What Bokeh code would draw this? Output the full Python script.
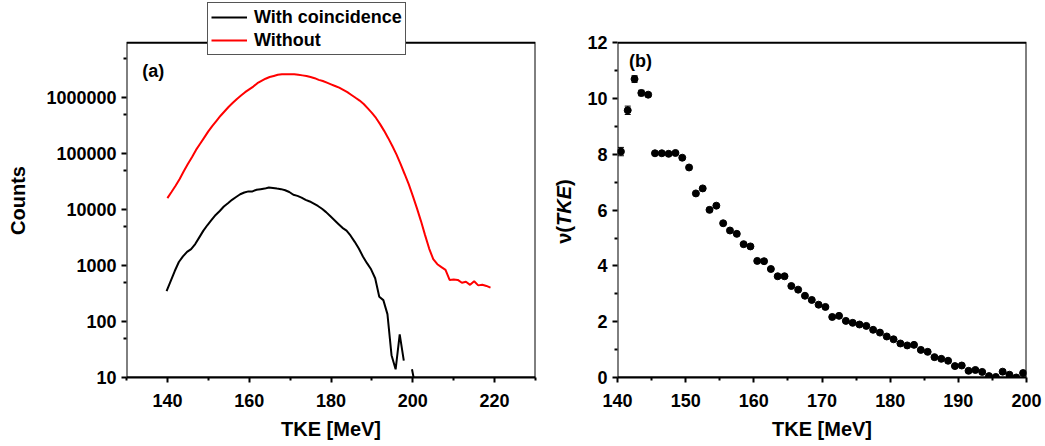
from math import pi
from bokeh.plotting import figure
from bokeh.layouts import row
from bokeh.models import (Range1d, FixedTicker, BasicTickFormatter, Label, Legend,
                          LegendItem, ColumnDataSource, Whisker, TeeHead, BoxAnnotation)
from bokeh.embed import file_html
from bokeh.resources import INLINE

FONT = "Liberation Sans"
NAN = float("nan")
H = 446          # canvas height
FB = 377         # frame bottom (px from top)
FT = 42.3        # top edge of the boxed plot area (px from top)

# ---------------- Panel (a) data ----------------
tke_without = list(range(140, 220))
counts_without = [
    15850, 20400, 26300, 34700, 47900, 64600, 85100, 114800, 147900, 190500,
    245500, 309000, 380200, 467700, 562300, 676100, 794300, 933300, 1071500, 1230300,
    1380400, 1548800, 1778300, 1949800, 2138000, 2290900, 2398800, 2511900, 2570400, 2570400,
    2570400, 2570400, 2511900, 2454700, 2398800, 2290900, 2187800, 2041700, 1949800, 1819700,
    1698200, 1584900, 1479100, 1349000, 1230300, 1096500, 977200, 871000, 758600, 631000,
    524800, 426600, 331100, 251200, 186200, 134900, 95500, 64600, 42700, 28200,
    17400, 10500, 6170, 3470, 2000, 1290, 1050, 930, 830, 550,
    560, 550, 490, 510, 450, 520, 440, 450, 430, 400,
]

tke_with = [v - 0.2 for v in range(140, 202)]
counts_with = [
    347, 525, 794, 1148, 1445, 1738, 1950, 2399, 3162, 4169,
    5248, 6457, 7943, 9333, 11220, 12880, 14790, 16600, 18620, 19950,
    20890, 20890, 22390, 22910, 23440, 24550, 23990, 23440, 22910, 21880,
    20420, 18200, 17380, 16220, 14790, 13800, 12590, 11480, 10230, 8913,
    7586, 6457, 5495, 4677, 4169, 3388, 2630, 1995, 1445, 1096,
    851, 589, 275, 240, 135, 25, 14, 59, 20, NAN,
    14, 6,
]

y_ticks_a = [10, 100, 1000, 10000, 100000, 1000000]
y_minor_a = [50, 500, 5000, 50000, 500000, 5000000]
x_ticks_a = [140, 160, 180, 200, 220]
x_minor_a = [130, 150, 170, 190, 210, 230]
x_lim_a = (130, 230)
y_lim_a = (10, 9.36e6)

# ---------------- Panel (b) data ----------------
tke_nu = [140.5 + i for i in range(60)]
nu = [
    8.10, 9.58, 10.70, 10.20, 10.14, 8.04, 8.04, 8.02, 8.05, 7.88,
    7.53, 6.60, 6.78, 6.01, 6.16, 5.53, 5.27, 5.15, 4.78, 4.70,
    4.18, 4.17, 3.89, 3.63, 3.63, 3.28, 3.15, 2.93, 2.78, 2.61,
    2.53, 2.17, 2.21, 2.03, 1.96, 1.90, 1.85, 1.71, 1.61, 1.47,
    1.37, 1.22, 1.15, 1.17, 0.99, 0.92, 0.73, 0.67, 0.60, 0.41,
    0.43, 0.24, 0.27, 0.20, 0.05, 0.02, 0.21, 0.10, 0.00, 0.16,
]
nu_err = [0.15, 0.15, 0.12, 0.10, 0.07] + [0.03] * 55

x_ticks_b = [140, 150, 160, 170, 180, 190, 200]
x_minor_b = [145, 155, 165, 175, 185, 195]
y_ticks_b = [0, 2, 4, 6, 8, 10, 12]
y_minor_b = [1, 3, 5, 7, 9, 11]
x_lim_b = (140, 200)
y_lim_b = (0, 12)


def style(p):
    p.xgrid.visible = False
    p.ygrid.visible = False
    p.outline_line_color = None
    for ax in (p.xaxis[0], p.yaxis[0]):
        ax.axis_line_width = 2
        ax.axis_line_color = "black"
        ax.major_tick_line_width = 2
        ax.minor_tick_line_width = 2
        ax.major_tick_out = 5
        ax.major_tick_in = 0
        ax.minor_tick_out = 3
        ax.minor_tick_in = 0
        ax.major_label_text_font = FONT
        ax.major_label_text_font_style = "bold"
        ax.major_label_text_font_size = "18px"
        ax.major_label_text_color = "black"
        ax.axis_label_text_font = FONT
        ax.axis_label_text_font_style = "bold"
        ax.axis_label_text_font_size = "20px"
        ax.axis_label_text_color = "black"
    p.xaxis.major_label_standoff = 11
    p.xaxis.axis_label_standoff = 8
    p.yaxis.major_label_standoff = 5
    # the left axis line is drawn by the box around the plot area
    p.yaxis.axis_line_color = None


def strip(width):
    s = figure(width=width, height=H, output_backend="svg", toolbar_location=None,
               x_range=Range1d(0, 1), y_range=Range1d(0, 1),
               x_axis_location=None, y_axis_location=None,
               min_border_left=0, min_border_right=0, min_border_top=0,
               min_border_bottom=H - FB)
    s.outline_line_color = None
    s.xgrid.visible = False
    s.ygrid.visible = False
    return s


def frame_box(p, xl, yl):
    p.add_layout(BoxAnnotation(left=xl[0], right=xl[1], bottom=yl[0], top=yl[1],
                               fill_color=None, fill_alpha=0, line_color="black",
                               line_width=2, line_alpha=1))


# ---------------- strip with "Counts" ----------------
sa = strip(40)
sa.add_layout(Label(x=17.2, y=FB - 200, x_units="screen", y_units="screen", text="Counts",
                    angle=pi / 2, text_align="center", text_baseline="middle",
                    text_font=FONT, text_font_style="bold", text_font_size="20px",
                    text_color="black"))

# ---------------- Figure (a) ----------------
# the frame runs up to the canvas top so the legend can straddle the box's upper edge
top_a = 10 ** (1 + FB / ((FB - FT) / 5.971))
p1 = figure(width=508, height=H, output_backend="svg", toolbar_location=None,
            y_axis_type="log", x_range=Range1d(*x_lim_a), y_range=Range1d(10, top_a),
            min_border_left=86, min_border_right=13, min_border_top=0,
            min_border_bottom=H - FB)
style(p1)
p1.xaxis.ticker = FixedTicker(ticks=x_ticks_a, minor_ticks=x_minor_a)
p1.yaxis.ticker = FixedTicker(ticks=y_ticks_a, minor_ticks=y_minor_a)
p1.yaxis.formatter = BasicTickFormatter(use_scientific=False)
p1.xaxis.axis_label = "TKE [MeV]"
frame_box(p1, x_lim_a, y_lim_a)

r_black = p1.line(tke_with, counts_with, line_color="black", line_width=2)
r_red = p1.line(tke_without, counts_without, line_color="#ff0000", line_width=2)

legend = Legend(items=[LegendItem(label="With coincidence", renderers=[r_black]),
                       LegendItem(label="Without", renderers=[r_red])],
                location=(81, FB - 55))
legend.label_text_font = FONT
legend.label_text_font_style = "bold"
legend.label_text_font_size = "18px"
legend.label_text_color = "black"
legend.glyph_width = 36
legend.glyph_height = 22
legend.label_height = 22
legend.spacing = 1
legend.padding = 3
legend.margin = 0
legend.label_standoff = 7
legend.border_line_color = "#555555"
legend.border_line_width = 1
legend.border_line_alpha = 1
legend.background_fill_color = "white"
legend.background_fill_alpha = 1
p1.add_layout(legend)

p1.add_layout(Label(x=15.7, y=FB - 70, x_units="screen", y_units="screen", text="(a)",
                    text_align="left", text_baseline="middle", text_color="black",
                    text_font=FONT, text_font_style="bold", text_font_size="18px"))

# ---------------- strip with "ν(TKE)" ----------------
sb = strip(30)
lab_kw = dict(x=15.3, x_units="screen", y_units="screen", angle=pi / 2, text_align="left",
              text_baseline="middle", text_font=FONT, text_font_size="20px", text_color="black")
y0 = FB - 243.3
sb.add_layout(Label(y=y0, text="ν(", text_font_style="bold", **lab_kw))
sb.add_layout(Label(y=y0 + 17.8, text="TKE", text_font_style="bold italic", **lab_kw))
sb.add_layout(Label(y=y0 + 57.8, text=")", text_font_style="bold", **lab_kw))

# ---------------- Figure (b) ----------------
top_b = y_lim_b[1] * FB / (FB - FT)
p2 = figure(width=464, height=H, output_backend="svg", toolbar_location=None,
            x_range=Range1d(*x_lim_b), y_range=Range1d(0, top_b),
            min_border_left=39, min_border_right=16, min_border_top=0,
            min_border_bottom=H - FB)
style(p2)
p2.xaxis.ticker = FixedTicker(ticks=x_ticks_b, minor_ticks=x_minor_b)
p2.yaxis.ticker = FixedTicker(ticks=y_ticks_b, minor_ticks=y_minor_b)
p2.xaxis.axis_label = "TKE [MeV]"
frame_box(p2, x_lim_b, y_lim_b)

src = ColumnDataSource(dict(x=tke_nu, y=nu,
                            lo=[a - e for a, e in zip(nu, nu_err)],
                            hi=[a + e for a, e in zip(nu, nu_err)]))
p2.add_layout(Whisker(source=src, base="x", upper="hi", lower="lo",
                      line_color="black", line_width=1,
                      upper_head=TeeHead(size=6, line_width=1, line_color="black"),
                      lower_head=TeeHead(size=6, line_width=1, line_color="black")))
p2.scatter("x", "y", source=src, size=7, color="black")

p2.add_layout(Label(x=11.6, y=FB - 60.7, x_units="screen", y_units="screen", text="(b)",
                    text_align="left", text_baseline="middle", text_color="black",
                    text_font=FONT, text_font_style="bold", text_font_size="18px"))

layout = row(sa, p1, sb, p2)
open("out.html", "w").write(file_html(layout, INLINE))
